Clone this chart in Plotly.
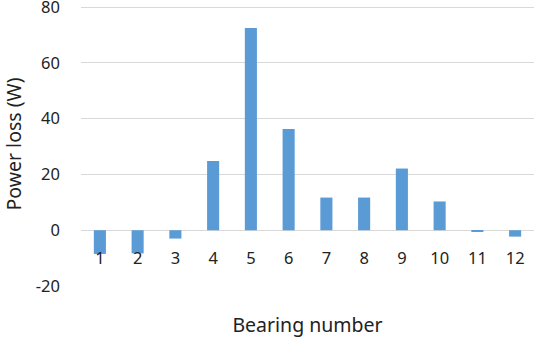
import plotly.graph_objects as go

bearings = [1, 2, 3, 4, 5, 6, 7, 8, 9, 10, 11, 12]
tick_labels = [str(b) for b in bearings]
power_loss = [-8.5, -8.3, -3.0, 24.8, 72.5, 36.3, 11.7, 11.7, 22.1, 10.3, -0.6, -2.3]
y_ticks = [-20, 0, 20, 40, 60, 80]
y_tick_labels = ["-20", "0", "20", "40", "60", "80"]

FONT = "Noto Sans"
Y_MIN, Y_MAX = -20, 81.8

fig = go.Figure(go.Bar(x=bearings, y=power_loss, marker_color="#5B9BD5",
                       marker_line_width=0))

fig.update_layout(
    width=535, height=338,
    margin=dict(l=81, r=1, t=2, b=52),
    paper_bgcolor="white", plot_bgcolor="white",
    bargap=0.68,
    showlegend=False,
    font=dict(family=FONT, size=16.5, color="#222222"),
    xaxis=dict(
        range=[0.5, 12.5], tickmode="array", tickvals=bearings, ticktext=tick_labels,
        anchor="free", position=(0 - Y_MIN) / (Y_MAX - Y_MIN), showline=False,
        showgrid=False, zeroline=False, ticks="", ticklabelstandoff=16,
        automargin=False,
        title=dict(text="Bearing number", font=dict(size=19.5), standoff=54),
        tickfont=dict(size=16.5),
    ),
    yaxis=dict(
        range=[Y_MIN, Y_MAX], tickmode="array", tickvals=y_ticks, ticktext=y_tick_labels,
        showgrid=True, gridcolor="#D9D9D9", gridwidth=1, zeroline=False,
        showline=False, ticks="", ticklabelstandoff=20, ticklabeloverflow="allow",
        automargin=False,
        title=dict(text="Power loss (W)", font=dict(size=19.5), standoff=21),
        tickfont=dict(size=16.5),
    ),
)

fig.write_html("out.html")
